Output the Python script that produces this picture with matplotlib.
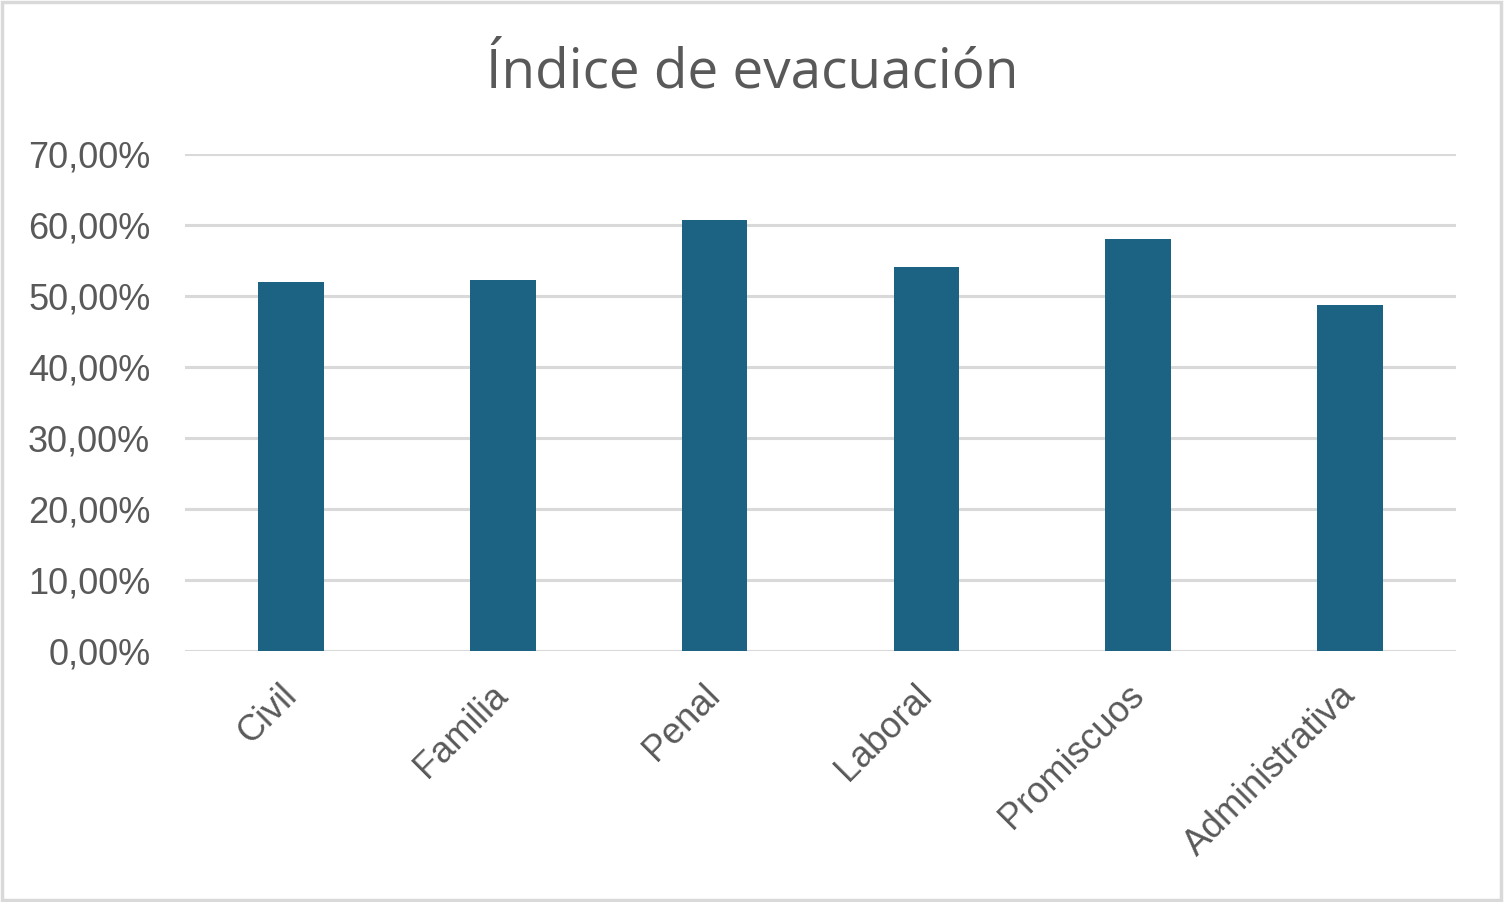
import matplotlib
matplotlib.use("Agg")
import matplotlib.pyplot as plt
from matplotlib.ticker import FuncFormatter, MultipleLocator
from matplotlib.patches import Rectangle

categories = ["Civil", "Familia", "Penal", "Laboral", "Promiscuos", "Administrativa"]
values = [0.5200, 0.5225, 0.6066, 0.5408, 0.5803, 0.4873]
title = "Índice de evacuación"

text_color = "#595959"
bar_color = "#1B6283"
grid_color = "#D9D9D9"

fig = plt.figure(figsize=(15.04, 9.02), dpi=100)
ax = fig.add_axes([185/1504, 251/902, (1456-185)/1504, (651-154)/902])

x = range(len(categories))
ax.bar(x, values, width=0.31, color=bar_color, zorder=3)
ax.set_xlim(-0.5, len(categories) - 0.5)
ax.set_ylim(0, 0.70)
ax.yaxis.set_major_locator(MultipleLocator(0.10))
ax.yaxis.set_major_formatter(FuncFormatter(lambda v, p: f"{v*100:.2f}%".replace(".", ",")))
ax.grid(axis="y", color=grid_color, linewidth=2.2, zorder=0)
for s in ax.spines.values():
    s.set_visible(False)
ax.tick_params(axis="both", length=0, labelsize=26, labelcolor=text_color)
ax.tick_params(axis="y", pad=25)
ax.tick_params(axis="x", pad=28)
ax.set_xticks(list(x))
ax.set_xticklabels(categories, rotation=45, ha="right", va="center", rotation_mode="anchor")
for lbl in ax.get_xticklabels() + ax.get_yticklabels():
    lbl.set_fontfamily(["Liberation Sans", "DejaVu Sans"])

fig.text(0.5, 1 - 88/902, title, ha="center", va="baseline", fontsize=39.5,
         color=text_color, family=["Open Sans", "DejaVu Sans"])

fig.patches.append(Rectangle((0.001, 0.002), 0.997, 0.996, transform=fig.transFigure,
                             fill=False, edgecolor="#D9D9D9", linewidth=2.5))

fig.savefig("out.png", dpi=100)
